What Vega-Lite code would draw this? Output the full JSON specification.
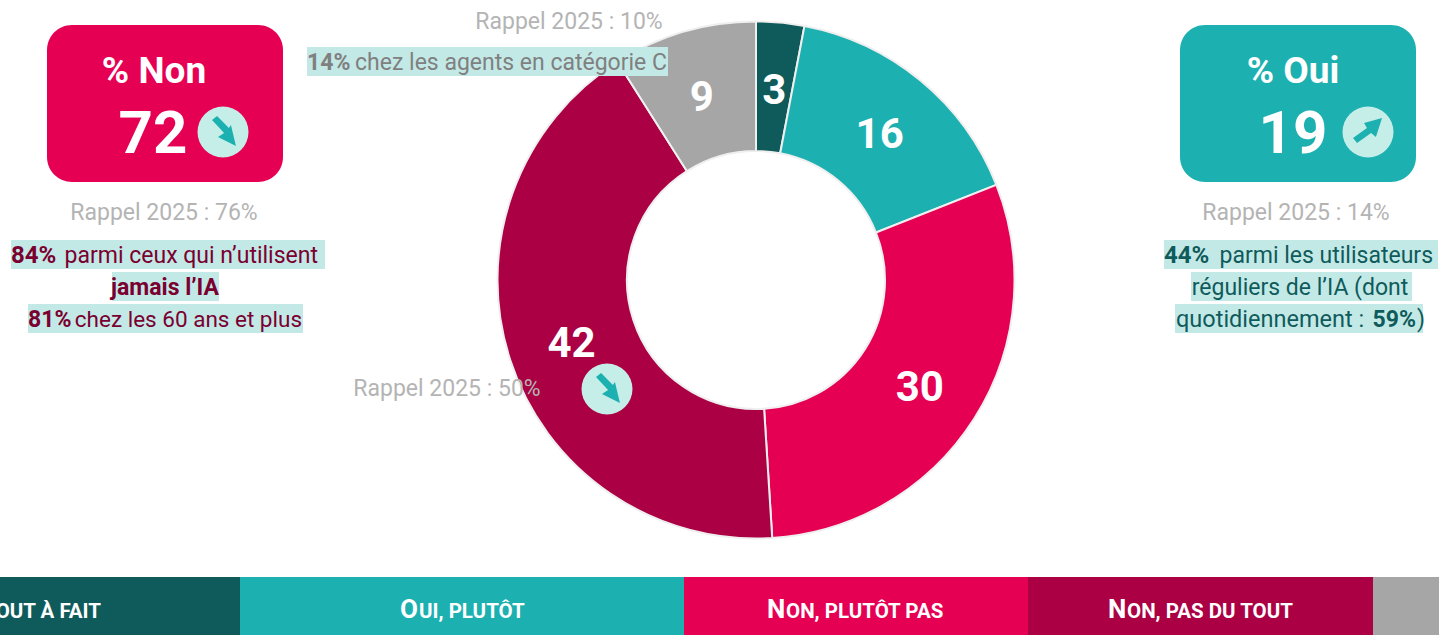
{
"$schema":"https://vega.github.io/schema/vega-lite/v6.json",
"width":1439,"height":635,"padding":0,"autosize":"none","background":"white",
"config":{"view":{"stroke":null},"axis":{"disable":true},"text":{"font":"Roboto","baseline":"alphabetic"}},
"datasets":{
"donut":[{"reponse":"Oui, tout à fait","rang":1,"valeur":3},{"reponse":"Oui, plutôt","rang":2,"valeur":16},{"reponse":"Non, plutôt pas","rang":3,"valeur":30},{"reponse":"Non, pas du tout","rang":4,"valeur":42},{"reponse":"Non réponse","rang":5,"valeur":9}]
},
"layer":[
{"data":{"name":"donut"},"transform":[{"filter":"datum.rang==1"}],"mark":"rect","encoding":{"x":{"datum":-204,"type":"quantitative","scale":{"domain":[0,1439]}},"x2":{"datum":240},"y":{"datum":577,"type":"quantitative","scale":{"domain":[635,0]}},"y2":{"datum":635},"color":{"field":"reponse","type":"nominal","legend":null,"scale":{"domain":["Oui, tout à fait","Oui, plutôt","Non, plutôt pas","Non, pas du tout","Non réponse"],"range":["#0F5B5B","#1DB0B0","#E60054","#AB0043","#A6A6A6"]}}}},
{"data":{"name":"donut"},"transform":[{"filter":"datum.rang==2"}],"mark":"rect","encoding":{"x":{"datum":240,"type":"quantitative","scale":{"domain":[0,1439]}},"x2":{"datum":684},"y":{"datum":577,"type":"quantitative","scale":{"domain":[635,0]}},"y2":{"datum":635},"color":{"field":"reponse","type":"nominal","legend":null}}},
{"data":{"name":"donut"},"transform":[{"filter":"datum.rang==3"}],"mark":"rect","encoding":{"x":{"datum":684,"type":"quantitative","scale":{"domain":[0,1439]}},"x2":{"datum":1028},"y":{"datum":577,"type":"quantitative","scale":{"domain":[635,0]}},"y2":{"datum":635},"color":{"field":"reponse","type":"nominal","legend":null}}},
{"data":{"name":"donut"},"transform":[{"filter":"datum.rang==4"}],"mark":"rect","encoding":{"x":{"datum":1028,"type":"quantitative","scale":{"domain":[0,1439]}},"x2":{"datum":1373},"y":{"datum":577,"type":"quantitative","scale":{"domain":[635,0]}},"y2":{"datum":635},"color":{"field":"reponse","type":"nominal","legend":null}}},
{"data":{"name":"donut"},"transform":[{"filter":"datum.rang==5"}],"mark":"rect","encoding":{"x":{"datum":1373,"type":"quantitative","scale":{"domain":[0,1439]}},"x2":{"datum":1439},"y":{"datum":577,"type":"quantitative","scale":{"domain":[635,0]}},"y2":{"datum":635},"color":{"field":"reponse","type":"nominal","legend":null}}},
{"data":{"name":"donut"},"mark":{"type":"arc","innerRadius":129,"outerRadius":258.5,"stroke":"#EFEFEF","strokeWidth":2},"encoding":{"x":{"datum":756,"type":"quantitative","scale":{"domain":[0,1439]}},"y":{"datum":280,"type":"quantitative","scale":{"domain":[635,0]}},"theta":{"field":"valeur","type":"quantitative","stack":true},"order":{"field":"rang"},"color":{"field":"reponse","type":"nominal","legend":null}}},
{"data":{"name":"donut"},"mark":{"type":"text","radius":194,"font":"Roboto","fontWeight":"bold","fontSize":42,"fill":"white","align":"center","baseline":"middle"},"encoding":{"x":{"datum":756,"type":"quantitative","scale":{"domain":[0,1439]}},"y":{"datum":284,"type":"quantitative","scale":{"domain":[635,0]}},"theta":{"field":"valeur","type":"quantitative","stack":true},"order":{"field":"rang"},"detail":{"field":"reponse"},"text":{"field":"valeur"}}},

{"data":{"values":[{"t":"% Non"}]},"mark":{"type":"rect","cornerRadius":25,"fill":"#E60054"},"encoding":{"x":{"datum":47,"type":"quantitative","scale":{"domain":[0,1439]}},"x2":{"datum":283},"y":{"datum":25,"type":"quantitative","scale":{"domain":[635,0]}},"y2":{"datum":182}}},
{"data":{"values":[{"t":"% Oui"}]},"mark":{"type":"rect","cornerRadius":25,"fill":"#1DB0B0"},"encoding":{"x":{"datum":1180,"type":"quantitative","scale":{"domain":[0,1439]}},"x2":{"datum":1416},"y":{"datum":25,"type":"quantitative","scale":{"domain":[635,0]}},"y2":{"datum":182}}},

{"data":{"values":[{"t":"84%"}]},"mark":{"type":"rect","fill":"#C3E9E7"},"encoding":{"x":{"datum":11,"type":"quantitative","scale":{"domain":[0,1439]}},"x2":{"datum":325},"y":{"datum":240,"type":"quantitative","scale":{"domain":[635,0]}},"y2":{"datum":269}}},
{"data":{"values":[{"t":"jamais"}]},"mark":{"type":"rect","fill":"#C3E9E7"},"encoding":{"x":{"datum":112,"type":"quantitative","scale":{"domain":[0,1439]}},"x2":{"datum":219},"y":{"datum":272,"type":"quantitative","scale":{"domain":[635,0]}},"y2":{"datum":301}}},
{"data":{"values":[{"t":"81%"}]},"mark":{"type":"rect","fill":"#C3E9E7"},"encoding":{"x":{"datum":28,"type":"quantitative","scale":{"domain":[0,1439]}},"x2":{"datum":303},"y":{"datum":304,"type":"quantitative","scale":{"domain":[635,0]}},"y2":{"datum":333}}},
{"data":{"values":[{"t":"44%"}]},"mark":{"type":"rect","fill":"#C3E9E7"},"encoding":{"x":{"datum":1164,"type":"quantitative","scale":{"domain":[0,1439]}},"x2":{"datum":1438},"y":{"datum":240,"type":"quantitative","scale":{"domain":[635,0]}},"y2":{"datum":269}}},
{"data":{"values":[{"t":"reguliers"}]},"mark":{"type":"rect","fill":"#C3E9E7"},"encoding":{"x":{"datum":1191,"type":"quantitative","scale":{"domain":[0,1439]}},"x2":{"datum":1412},"y":{"datum":272,"type":"quantitative","scale":{"domain":[635,0]}},"y2":{"datum":301}}},
{"data":{"values":[{"t":"quotidien"}]},"mark":{"type":"rect","fill":"#C3E9E7"},"encoding":{"x":{"datum":1175,"type":"quantitative","scale":{"domain":[0,1439]}},"x2":{"datum":1423},"y":{"datum":304,"type":"quantitative","scale":{"domain":[635,0]}},"y2":{"datum":333}}},
{"data":{"values":[{"t":"14%"}]},"mark":{"type":"rect","fill":"#C3E9E7"},"encoding":{"x":{"datum":307,"type":"quantitative","scale":{"domain":[0,1439]}},"x2":{"datum":668},"y":{"datum":47,"type":"quantitative","scale":{"domain":[635,0]}},"y2":{"datum":76}}},

{"data":{"values":[{"t":"baisse"}]},"mark":{"type":"point","shape":"circle","filled":true,"opacity":1,"fill":"#C6EEE9","size":2600},"encoding":{"x":{"datum":223,"type":"quantitative","scale":{"domain":[0,1439]}},"y":{"datum":132,"type":"quantitative","scale":{"domain":[635,0]}}}},
{"data":{"values":[{"t":"hausse"}]},"mark":{"type":"point","shape":"circle","filled":true,"opacity":1,"fill":"#C6EEE9","size":2600},"encoding":{"x":{"datum":1368,"type":"quantitative","scale":{"domain":[0,1439]}},"y":{"datum":132,"type":"quantitative","scale":{"domain":[635,0]}}}},
{"data":{"values":[{"t":"baisse"}]},"mark":{"type":"point","shape":"circle","filled":true,"opacity":1,"fill":"#C6EEE9","size":2600},"encoding":{"x":{"datum":607,"type":"quantitative","scale":{"domain":[0,1439]}},"y":{"datum":389,"type":"quantitative","scale":{"domain":[635,0]}}}},
{"data":{"values":[{"t":"baisse"}]},"mark":{"type":"point","filled":true,"opacity":1,"fill":"#1DB0B0","size":1296,"shape":"M-.61,-.67L-.33,-.89L.33,-.22L.44,-.39L.72,.78L-.28,.28L.06,.06Z"},"encoding":{"x":{"datum":223,"type":"quantitative","scale":{"domain":[0,1439]}},"y":{"datum":132,"type":"quantitative","scale":{"domain":[635,0]}}}},
{"data":{"values":[{"t":"baisse"}]},"mark":{"type":"point","filled":true,"opacity":1,"fill":"#1DB0B0","size":1296,"shape":"M-.61,-.67L-.33,-.89L.33,-.22L.44,-.39L.72,.78L-.28,.28L.06,.06Z"},"encoding":{"x":{"datum":607,"type":"quantitative","scale":{"domain":[0,1439]}},"y":{"datum":389,"type":"quantitative","scale":{"domain":[635,0]}}}},
{"data":{"values":[{"t":"hausse"}]},"mark":{"type":"point","filled":true,"opacity":1,"fill":"#1DB0B0","size":1296,"shape":"M-.83,.33L-.06,-.22L-.22,-.5L.78,-.78L.44,.28L.17,.06L-.61,.61Z"},"encoding":{"x":{"datum":1368,"type":"quantitative","scale":{"domain":[0,1439]}},"y":{"datum":132,"type":"quantitative","scale":{"domain":[635,0]}}}},

{"data":{"values":[{"t":"% Non"}]},"mark":{"type":"text","fontWeight":"bold","fontSize":37,"fill":"white","align":"center"},"encoding":{"x":{"datum":154,"type":"quantitative","scale":{"domain":[0,1439]}},"y":{"datum":83,"type":"quantitative","scale":{"domain":[635,0]}},"text":{"field":"t"}}},
{"data":{"values":[{"t":"72"}]},"mark":{"type":"text","fontWeight":"bold","fontSize":60,"fill":"white","align":"center"},"encoding":{"x":{"datum":153,"type":"quantitative","scale":{"domain":[0,1439]}},"y":{"datum":153,"type":"quantitative","scale":{"domain":[635,0]}},"text":{"field":"t"}}},
{"data":{"values":[{"t":"% Oui"}]},"mark":{"type":"text","fontWeight":"bold","fontSize":37,"fill":"white","align":"center"},"encoding":{"x":{"datum":1293,"type":"quantitative","scale":{"domain":[0,1439]}},"y":{"datum":83,"type":"quantitative","scale":{"domain":[635,0]}},"text":{"field":"t"}}},
{"data":{"values":[{"t":"19"}]},"mark":{"type":"text","fontWeight":"bold","fontSize":60,"fill":"white","align":"center"},"encoding":{"x":{"datum":1293,"type":"quantitative","scale":{"domain":[0,1439]}},"y":{"datum":153,"type":"quantitative","scale":{"domain":[635,0]}},"text":{"field":"t"}}},

{"data":{"values":[{"t":"Rappel 2025 : 76%"}]},"mark":{"type":"text","fontSize":23,"fill":"#B4B4B4","align":"center"},"encoding":{"x":{"datum":164,"type":"quantitative","scale":{"domain":[0,1439]}},"y":{"datum":220,"type":"quantitative","scale":{"domain":[635,0]}},"text":{"field":"t"}}},
{"data":{"values":[{"t":"Rappel 2025 : 14%"}]},"mark":{"type":"text","fontSize":23,"fill":"#B4B4B4","align":"center"},"encoding":{"x":{"datum":1296,"type":"quantitative","scale":{"domain":[0,1439]}},"y":{"datum":220,"type":"quantitative","scale":{"domain":[635,0]}},"text":{"field":"t"}}},
{"data":{"values":[{"t":"Rappel 2025 : 10%"}]},"mark":{"type":"text","fontSize":23,"fill":"#B4B4B4","align":"center"},"encoding":{"x":{"datum":569,"type":"quantitative","scale":{"domain":[0,1439]}},"y":{"datum":29,"type":"quantitative","scale":{"domain":[635,0]}},"text":{"field":"t"}}},
{"data":{"values":[{"t":"Rappel 2025 : 50%"}]},"mark":{"type":"text","fontSize":23,"fill":"#B4B4B4","align":"center"},"encoding":{"x":{"datum":447,"type":"quantitative","scale":{"domain":[0,1439]}},"y":{"datum":396,"type":"quantitative","scale":{"domain":[635,0]}},"text":{"field":"t"}}},

{"data":{"values":[{"t":"84%"}]},"mark":{"type":"text","fontSize":24,"fontWeight":"bold","fill":"#7A0030","align":"left"},"encoding":{"x":{"datum":11,"type":"quantitative","scale":{"domain":[0,1439]}},"y":{"datum":263,"type":"quantitative","scale":{"domain":[635,0]}},"text":{"field":"t"}}},
{"data":{"values":[{"t":"parmi ceux qui n’utilisent"}]},"mark":{"type":"text","fontSize":23,"fill":"#7A0030","align":"right"},"encoding":{"x":{"datum":318,"type":"quantitative","scale":{"domain":[0,1439]}},"y":{"datum":263,"type":"quantitative","scale":{"domain":[635,0]}},"text":{"field":"t"}}},
{"data":{"values":[{"t":"jamais l’IA"}]},"mark":{"type":"text","fontSize":23,"fontWeight":"bold","fill":"#7A0030","align":"center"},"encoding":{"x":{"datum":165,"type":"quantitative","scale":{"domain":[0,1439]}},"y":{"datum":295,"type":"quantitative","scale":{"domain":[635,0]}},"text":{"field":"t"}}},
{"data":{"values":[{"t":"81%"}]},"mark":{"type":"text","fontSize":23,"fontWeight":"bold","fill":"#7A0030","align":"left"},"encoding":{"x":{"datum":28,"type":"quantitative","scale":{"domain":[0,1439]}},"y":{"datum":327,"type":"quantitative","scale":{"domain":[635,0]}},"text":{"field":"t"}}},
{"data":{"values":[{"t":"chez les 60 ans et plus"}]},"mark":{"type":"text","fontSize":22.5,"fill":"#7A0030","align":"right"},"encoding":{"x":{"datum":302,"type":"quantitative","scale":{"domain":[0,1439]}},"y":{"datum":327,"type":"quantitative","scale":{"domain":[635,0]}},"text":{"field":"t"}}},

{"data":{"values":[{"t":"44%"}]},"mark":{"type":"text","fontSize":24,"fontWeight":"bold","fill":"#0F5B5B","align":"left"},"encoding":{"x":{"datum":1164,"type":"quantitative","scale":{"domain":[0,1439]}},"y":{"datum":263,"type":"quantitative","scale":{"domain":[635,0]}},"text":{"field":"t"}}},
{"data":{"values":[{"t":"parmi les utilisateurs"}]},"mark":{"type":"text","fontSize":23,"fill":"#0F5B5B","align":"right"},"encoding":{"x":{"datum":1433,"type":"quantitative","scale":{"domain":[0,1439]}},"y":{"datum":263,"type":"quantitative","scale":{"domain":[635,0]}},"text":{"field":"t"}}},
{"data":{"values":[{"t":"réguliers de l’IA (dont"}]},"mark":{"type":"text","fontSize":23,"fill":"#0F5B5B","align":"center"},"encoding":{"x":{"datum":1300,"type":"quantitative","scale":{"domain":[0,1439]}},"y":{"datum":295,"type":"quantitative","scale":{"domain":[635,0]}},"text":{"field":"t"}}},
{"data":{"values":[{"t":"quotidiennement :"}]},"mark":{"type":"text","fontSize":23.5,"fill":"#0F5B5B","align":"left"},"encoding":{"x":{"datum":1176,"type":"quantitative","scale":{"domain":[0,1439]}},"y":{"datum":327,"type":"quantitative","scale":{"domain":[635,0]}},"text":{"field":"t"}}},
{"data":{"values":[{"t":"59%"}]},"mark":{"type":"text","fontSize":23,"fontWeight":"bold","fill":"#0F5B5B","align":"right"},"encoding":{"x":{"datum":1416,"type":"quantitative","scale":{"domain":[0,1439]}},"y":{"datum":327,"type":"quantitative","scale":{"domain":[635,0]}},"text":{"field":"t"}}},
{"data":{"values":[{"t":")"}]},"mark":{"type":"text","fontSize":23,"fill":"#0F5B5B","align":"left"},"encoding":{"x":{"datum":1417,"type":"quantitative","scale":{"domain":[0,1439]}},"y":{"datum":327,"type":"quantitative","scale":{"domain":[635,0]}},"text":{"field":"t"}}},

{"data":{"values":[{"t":"14%"}]},"mark":{"type":"text","fontSize":23,"fontWeight":"bold","fill":"#808080","align":"left"},"encoding":{"x":{"datum":307,"type":"quantitative","scale":{"domain":[0,1439]}},"y":{"datum":70,"type":"quantitative","scale":{"domain":[635,0]}},"text":{"field":"t"}}},
{"data":{"values":[{"t":"chez les agents en catégorie C"}]},"mark":{"type":"text","fontSize":23,"fill":"#808080","align":"right"},"encoding":{"x":{"datum":667,"type":"quantitative","scale":{"domain":[0,1439]}},"y":{"datum":70,"type":"quantitative","scale":{"domain":[635,0]}},"text":{"field":"t"}}},

{"data":{"values":[{"t":"O"}]},"mark":{"type":"text","fontSize":26,"fontWeight":"bold","fill":"white","align":"left"},"encoding":{"x":{"datum":-54,"type":"quantitative","scale":{"domain":[0,1439]}},"y":{"datum":618,"type":"quantitative","scale":{"domain":[635,0]}},"text":{"field":"t"}}},
{"data":{"values":[{"t":"UI, TOUT À FAIT"}]},"mark":{"type":"text","fontSize":20.5,"fontWeight":"bold","fill":"white","align":"right"},"encoding":{"x":{"datum":101,"type":"quantitative","scale":{"domain":[0,1439]}},"y":{"datum":618,"type":"quantitative","scale":{"domain":[635,0]}},"text":{"field":"t"}}},
{"data":{"values":[{"t":"O"}]},"mark":{"type":"text","fontSize":26,"fontWeight":"bold","fill":"white","align":"left"},"encoding":{"x":{"datum":400,"type":"quantitative","scale":{"domain":[0,1439]}},"y":{"datum":618,"type":"quantitative","scale":{"domain":[635,0]}},"text":{"field":"t"}}},
{"data":{"values":[{"t":"UI, PLUTÔT"}]},"mark":{"type":"text","fontSize":20.5,"fontWeight":"bold","fill":"white","align":"left"},"encoding":{"x":{"datum":419,"type":"quantitative","scale":{"domain":[0,1439]}},"y":{"datum":618,"type":"quantitative","scale":{"domain":[635,0]}},"text":{"field":"t"}}},
{"data":{"values":[{"t":"N"}]},"mark":{"type":"text","fontSize":26,"fontWeight":"bold","fill":"white","align":"left"},"encoding":{"x":{"datum":767,"type":"quantitative","scale":{"domain":[0,1439]}},"y":{"datum":618,"type":"quantitative","scale":{"domain":[635,0]}},"text":{"field":"t"}}},
{"data":{"values":[{"t":"ON, PLUTÔT PAS"}]},"mark":{"type":"text","fontSize":20.5,"fontWeight":"bold","fill":"white","align":"left"},"encoding":{"x":{"datum":786,"type":"quantitative","scale":{"domain":[0,1439]}},"y":{"datum":618,"type":"quantitative","scale":{"domain":[635,0]}},"text":{"field":"t"}}},
{"data":{"values":[{"t":"N"}]},"mark":{"type":"text","fontSize":26,"fontWeight":"bold","fill":"white","align":"left"},"encoding":{"x":{"datum":1108,"type":"quantitative","scale":{"domain":[0,1439]}},"y":{"datum":618,"type":"quantitative","scale":{"domain":[635,0]}},"text":{"field":"t"}}},
{"data":{"values":[{"t":"ON, PAS DU TOUT"}]},"mark":{"type":"text","fontSize":20.5,"fontWeight":"bold","fill":"white","align":"left"},"encoding":{"x":{"datum":1127,"type":"quantitative","scale":{"domain":[0,1439]}},"y":{"datum":618,"type":"quantitative","scale":{"domain":[635,0]}},"text":{"field":"t"}}}
]
}
